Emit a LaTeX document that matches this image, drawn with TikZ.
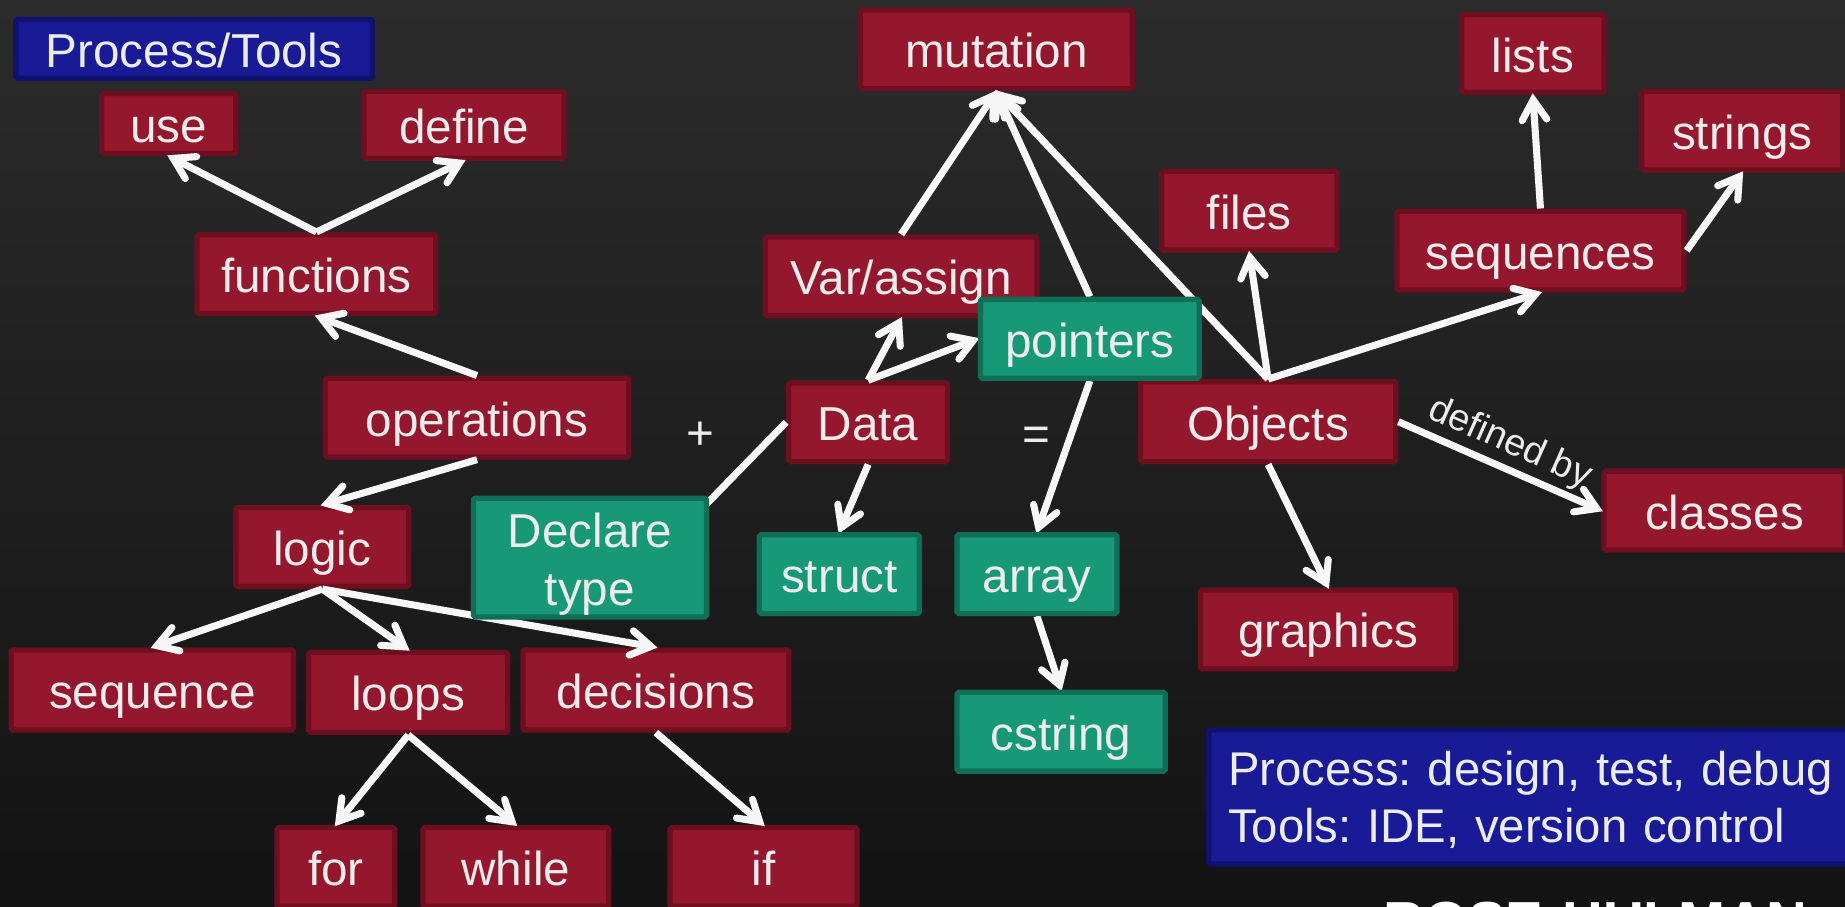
\documentclass[tikz,border=0pt]{standalone}
\usepackage{fontspec}
\setmainfont{Liberation Sans}
\usetikzlibrary{arrows.meta}
\pgfdeclarelayer{toplayer}
\pgfsetlayers{main,toplayer}
\definecolor{bgtop}{HTML}{2B2B2B}
\definecolor{bgbot}{HTML}{131313}
\definecolor{redfill}{HTML}{95172E}
\definecolor{redline}{HTML}{6E0F20}
\definecolor{greenfill}{HTML}{179977}
\definecolor{greenline}{HTML}{0F6E55}
\definecolor{bluefill}{HTML}{181A96}
\definecolor{blueline}{HTML}{0F126E}
\definecolor{txt}{HTML}{ECECEC}
\tikzset{
  boxbase/.style={rectangle,line width=4.5pt,rounded corners=1.5pt,inner sep=0pt,text=txt,
    font=\fontsize{40.5}{48}\selectfont\frenchspacing,align=center,text height=31.5pt,text depth=0pt},
  redbox/.style={boxbase,draw=redline,fill=redfill},
  greenbox/.style={boxbase,draw=greenline,fill=greenfill},
  bluebox/.style={boxbase,draw=blueline,fill=bluefill},
  conn/.style={draw=white!97!black,line width=6pt,shorten >=-1.5pt,-{Straight Barb[length=17pt,width=21pt,line cap=round,line join=miter]}},
  plainconn/.style={draw=white!97!black,line width=6pt},
  sym/.style={text=txt,font=\fontsize{40.5}{48}\selectfont,inner sep=0pt},
}
\begin{document}
\begin{tikzpicture}[x=1pt,y=-1pt]
\useasboundingbox (0,0) rectangle (1568.4,771);
\path[top color=bgtop,bottom color=bgbot] (0,0) rectangle (1568.4,771);

% red nodes
\node[redbox,minimum width=114pt,minimum height=51pt] (use) at (143.5,105) {use};
\node[redbox,minimum width=170pt,minimum height=57pt] (define) at (394.5,106) {define};
\node[redbox,minimum width=203pt,minimum height=67pt] (functions) at (269,233) {functions};
\node[redbox,minimum width=258pt,minimum height=67pt] (operations) at (405.5,355) {operations};
\node[redbox,minimum width=147pt,minimum height=67pt] (logic) at (274,465) {logic};
\node[redbox,minimum width=240pt,minimum height=68pt] (sequence) at (129.5,586.5) {sequence};
\node[redbox,minimum width=169pt,minimum height=68pt] (loops) at (347,588.5) {loops};
\node[redbox,minimum width=226pt,minimum height=68pt] (decisions) at (557.5,586.5) {decisions};
\node[redbox,minimum width=100pt,minimum height=67pt] (for) at (285.5,737) {for};
\node[redbox,minimum width=158pt,minimum height=67pt] (while) at (438.5,737) {while};
\node[redbox,minimum width=159pt,minimum height=67pt] (if) at (649,737) {if};
\node[redbox,minimum width=135pt,minimum height=67pt] (Data) at (738,359) {Data};
\node[redbox,minimum width=231pt,minimum height=67pt] (Var) at (766,235) {Var/assign};
\node[redbox,minimum width=231pt,minimum height=67pt] (mutation) at (847,42) {mutation};
\node[redbox,minimum width=217pt,minimum height=68pt] (Objects) at (1078,358.5) {Objects};
\node[redbox,minimum width=149pt,minimum height=67pt] (files) at (1062,179) {files};
\node[redbox,minimum width=244pt,minimum height=67pt] (sequences) at (1309.5,213) {sequences};
\node[redbox,minimum width=121pt,minimum height=66pt] (lists) at (1303,45.5) {lists};
\node[redbox,minimum width=171pt,minimum height=67pt] (strings) at (1481,111) {strings};
\node[redbox,minimum width=205pt,minimum height=67pt] (classes) at (1466,434) {classes};
\node[redbox,minimum width=217pt,minimum height=67pt] (graphics) at (1129,535) {graphics};
\node[bluebox,minimum width=303pt,minimum height=50pt] (ptools) at (165,41.5) {Process/Tools};

% green nodes, above the connectors
\begin{pgfonlayer}{toplayer}
\node[greenbox,minimum width=198pt,minimum height=101pt,text height=81pt,text depth=0pt,font=\fontsize{40.5}{49}\selectfont] (Declare) at (501.5,474) {Declare\\type};
\node[greenbox,minimum width=136pt,minimum height=67pt] (struct) at (713.5,488) {struct};
\node[greenbox,minimum width=136pt,minimum height=67pt] (array) at (881.5,488) {array};
\node[greenbox,minimum width=177pt,minimum height=67pt] (cstring) at (902,622) {cstring};
\node[greenbox,minimum width=186pt,minimum height=67pt] (pointers) at (926.5,288) {pointers};
\end{pgfonlayer}
\node[bluebox,minimum height=114pt,text height=0pt,text depth=19pt,align=left,text width=530pt,inner xsep=16.5pt,font=\fontsize{40.2}{48}\selectfont\frenchspacing] (pbox) at (1309,677.5) {Process: design, test, debug\\Tools: IDE, version control};

\coordinate (declcorner) at (601,428);

% connectors
\draw[conn] (functions.north) -- (use.south);
\draw[conn] (functions.north) -- (define.south);
\draw[conn] (operations.north) -- (functions.south);
\draw[conn] (operations.south) -- (logic.north);
\draw[conn] (logic.south) -- (sequence.north);
\draw[conn] (logic.south) -- (loops.north);
\draw[conn] (logic.south) -- (decisions.north);
\draw[conn] (loops.south) -- (for.north);
\draw[conn] (loops.south) -- (while.north);
\draw[conn] (decisions.south) -- (if.north);
\draw[plainconn] (Data.west) -- (declcorner);
\draw[conn] (Data.north) -- (Var.south);
\draw[conn] (Data.north) -- (pointers.west);
\draw[conn] (Data.south) -- (struct.north);
\draw[conn] (pointers.south) -- (array.north);
\draw[conn] (array.south) -- (cstring.north);
\draw[conn] (Var.north) -- (mutation.south);
\draw[conn] (pointers.north) -- (mutation.south);
\draw[conn] (Objects.north) -- (mutation.south);
\draw[conn] (Objects.north) -- (files.south);
\draw[conn] (Objects.north) -- (sequences.south);
\draw[conn] (Objects.south) -- (graphics.north);
\draw[conn] (Objects.east) -- (classes.west);
\draw[conn] (sequences.north) -- (lists.south);
\draw[conn] (sequences.east) -- (strings.south);

% free labels
\node[sym] (plus) at (595,370) {+};
\node[sym] (eq) at (881,373) {=};
\node[sym,font=\fontsize{32}{38}\selectfont,rotate=-24] (definedby) at (1283.5,377) {defined by};
\node[anchor=base,inner sep=0pt,text=white,font=\fontsize{48}{48}\selectfont\bfseries] (logo) at (1356,800) {ROSE-HULMAN};
\end{tikzpicture}
\end{document}
